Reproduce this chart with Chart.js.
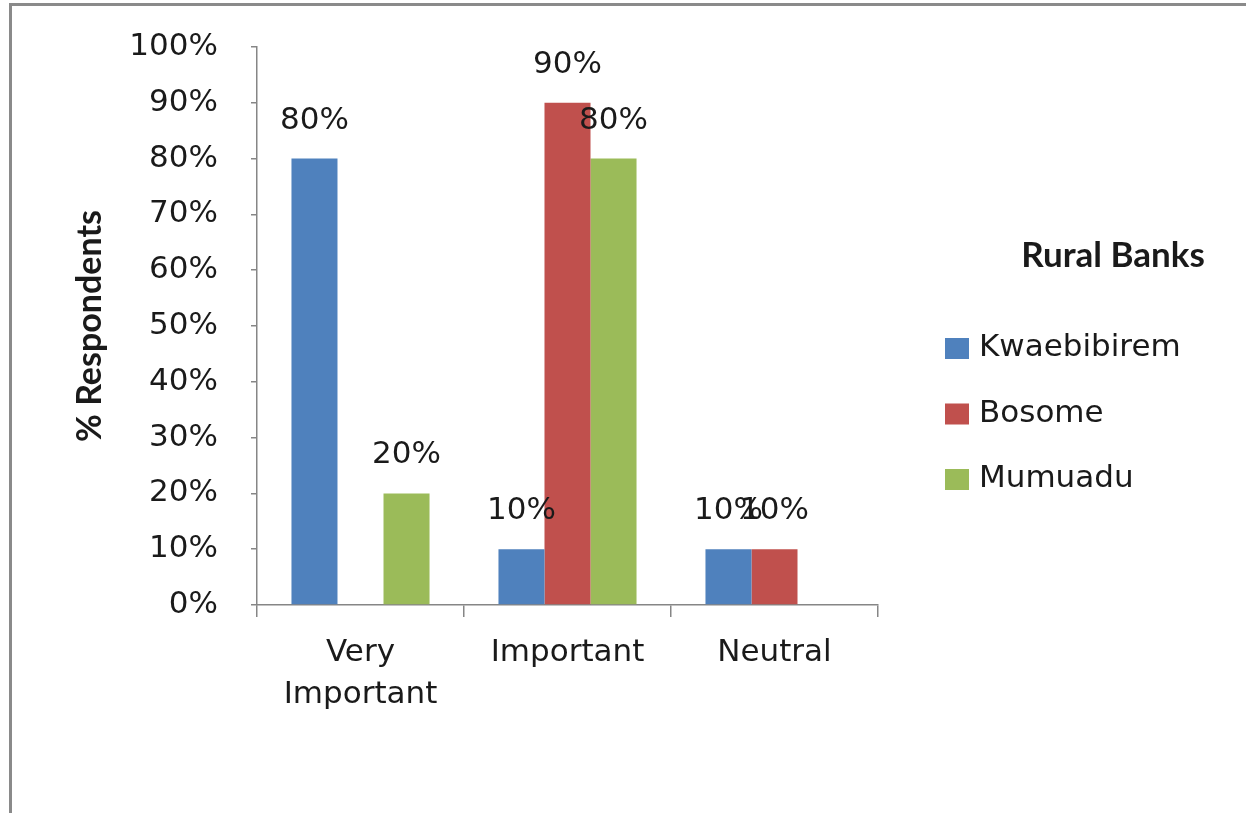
<!DOCTYPE html>
<html>
<head>
<meta charset="utf-8">
<script src="https://cdn.jsdelivr.net/npm/chart.js@4.4.1/dist/chart.umd.min.js"></script>
<style>
  html, body { margin: 0; padding: 0; background: #fff; overflow: hidden; }
  #wrap { position: relative; width: 1246px; height: 813px; }
  #frame { position: absolute; left: 9px; top: 3px; right: -10px; bottom: -10px; border: 3px solid #8a8a8a; pointer-events: none; }
</style>
</head>
<body>
<div id="wrap">
  <canvas id="chart" width="1246" height="813"></canvas>
  <div id="frame"></div>
</div>
<script>
// Chart data
const categories = [['Very', 'Important'], 'Important', 'Neutral'];
const banks = ['Kwaebibirem', 'Bosome', 'Mumuadu'];
const kwaebibirem = [80, 10, 10];
const bosome = [0, 90, 10];
const mumuadu = [20, 80, 0];
const yTicks = [0, 10, 20, 30, 40, 50, 60, 70, 80, 90, 100];
const legendTitle = 'Rural Banks';
const yTitle = '% Respondents';

const colors = ['#4f81bd', '#c0504d', '#9bbb59'];
const textColor = '#1a1a1a';
const axisColor = '#868686';
const regularFont = 'DejaVu Sans';
const boldFont = 'Lato';

// Percent labels above each bar (zero values are skipped like in the original)
const valueLabels = {
  id: 'valueLabels',
  afterDatasetsDraw(chart) {
    const ctx = chart.ctx;
    ctx.save();
    ctx.font = '31px "' + regularFont + '"';
    ctx.fillStyle = textColor;
    ctx.textAlign = 'center';
    ctx.textBaseline = 'middle';
    chart.data.datasets.forEach((ds, i) => {
      const meta = chart.getDatasetMeta(i);
      meta.data.forEach((bar, j) => {
        const v = ds.data[j];
        if (!v) return;
        ctx.fillText(v + '%', bar.x, bar.y - 38);
      });
    });
    ctx.restore();
  }
};

// Legend on the right, drawn by hand to match the Excel layout
const sideLegend = {
  id: 'sideLegend',
  afterDraw(chart) {
    const ctx = chart.ctx;
    ctx.save();
    ctx.fillStyle = textColor;
    ctx.textBaseline = 'middle';
    ctx.textAlign = 'center';
    ctx.font = 'bold 35px "' + boldFont + '"';
    ctx.fillText(legendTitle, 1113, 256);
    ctx.textAlign = 'left';
    ctx.font = '31px "' + regularFont + '"';
    chart.data.datasets.forEach((ds, i) => {
      const y = 348 + i * 65.5;
      ctx.fillStyle = ds.backgroundColor;
      ctx.fillRect(945, y - 10, 24, 21);
      ctx.fillStyle = textColor;
      ctx.fillText(ds.label, 979, y);
    });
    ctx.restore();
  }
};

new Chart(document.getElementById('chart'), {
  type: 'bar',
  data: {
    labels: categories,
    datasets: [
      { label: banks[0], data: kwaebibirem, backgroundColor: colors[0] },
      { label: banks[1], data: bosome, backgroundColor: colors[1] },
      { label: banks[2], data: mumuadu, backgroundColor: colors[2] }
    ]
  },
  options: {
    responsive: false,
    animation: false,
    categoryPercentage: 0.667,
    barPercentage: 1.0,
    layout: { padding: { left: 70, top: 47, right: 368, bottom: 0 } },
    plugins: {
      legend: { display: false },
      tooltip: { enabled: false }
    },
    scales: {
      x: {
        offset: true,
        grid: { offset: true, drawOnChartArea: false, drawTicks: true, tickLength: 12, color: axisColor, lineWidth: 1.5 },
        border: { display: true, color: axisColor, width: 1.5 },
        ticks: {
          color: textColor,
          padding: 15,
          maxRotation: 0,
          font: { family: regularFont, size: 31, lineHeight: 1.36 }
        },
        afterFit(scale) { scale.height = 208; }
      },
      y: {
        min: 0,
        max: 100,
        afterBuildTicks(scale) { scale.ticks = yTicks.map(v => ({ value: v })); },
        grid: { drawOnChartArea: false, drawTicks: true, tickLength: 6, color: axisColor, lineWidth: 1.5 },
        border: { display: true, color: axisColor, width: 1.5 },
        ticks: {
          color: textColor,
          padding: 33,
          font: { family: regularFont, size: 31 },
          callback: v => v + '%'
        },
        title: {
          display: true,
          text: yTitle,
          color: textColor,
          padding: 0,
          font: { family: boldFont, size: 34, weight: 'bold', lineHeight: 1.2 }
        },
        afterFit(scale) {
          scale.width = 187;
          // tick padding would otherwise push the plot top down
          scale.paddingTop = 0;
          scale.paddingBottom = 0;
        }
      }
    }
  },
  plugins: [valueLabels, sideLegend]
});
</script>
</body>
</html>
